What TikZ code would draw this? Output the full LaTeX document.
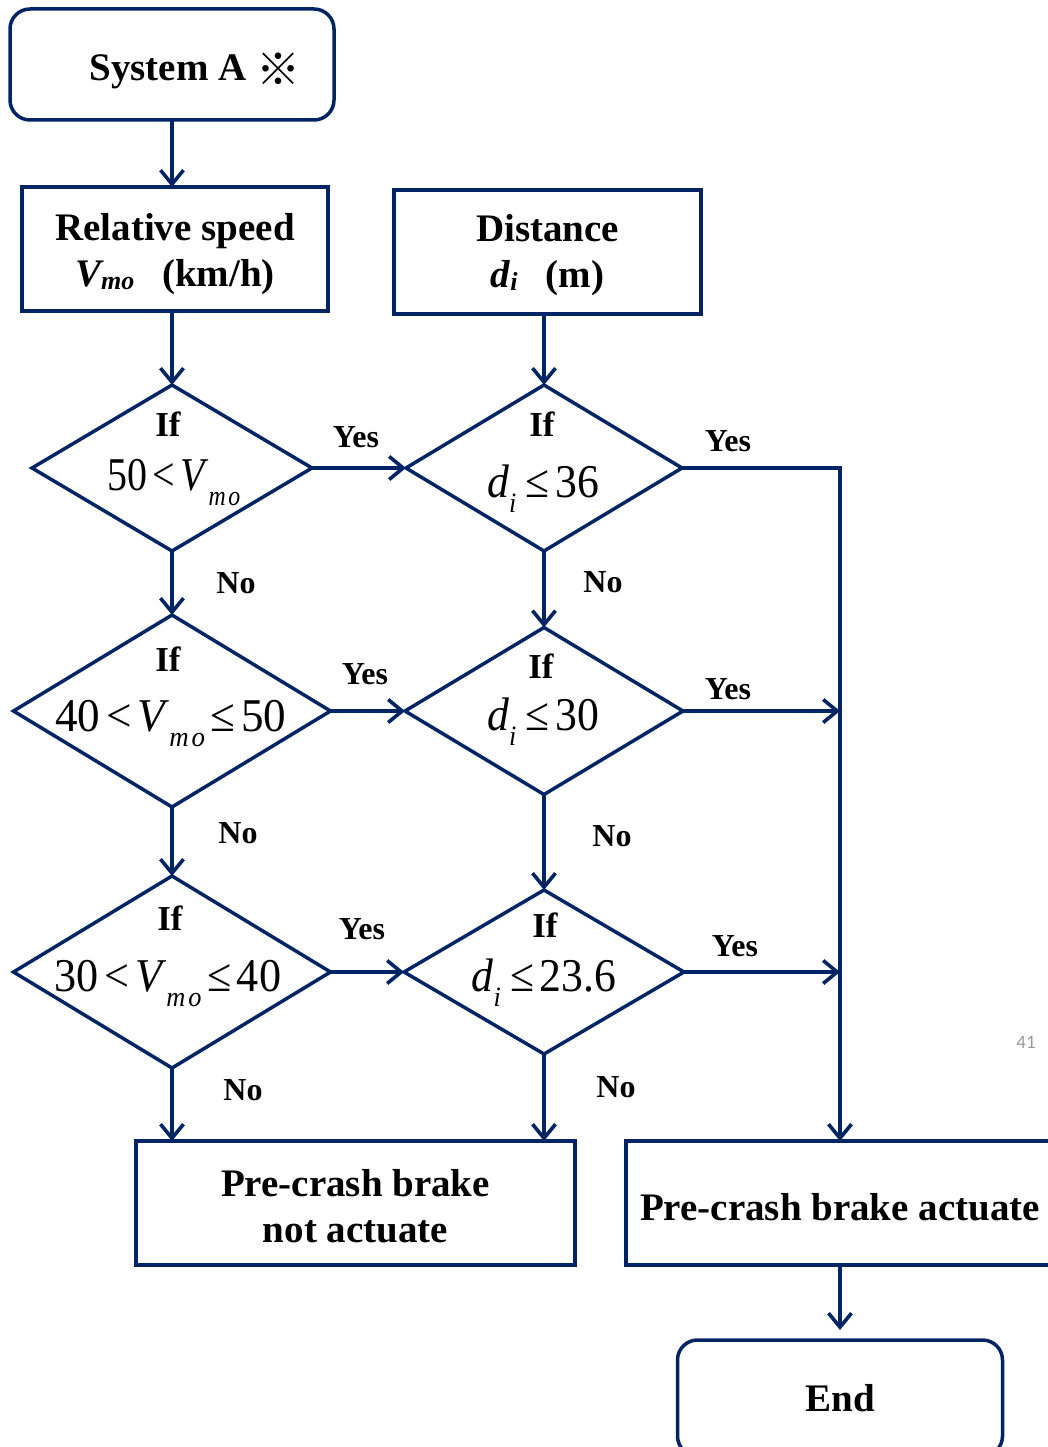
\documentclass[tikz,border=0pt]{standalone}
\usepackage{graphicx}
\usepackage{fontspec}
\setmainfont{Liberation Serif}
\newfontfamily\cjk{Noto Sans CJK JP}
\newfontfamily\pagefont{Carlito}
\usetikzlibrary{shapes.geometric,arrows.meta}
\definecolor{navy}{RGB}{0,36,100}

% font sizes (1pt = 1 unit of the drawing grid)
\newcommand{\boxfont}{\fontsize{39}{46}\selectfont\bfseries}
\newcommand{\iffont}{\fontsize{35}{40}\selectfont\bfseries}
\newcommand{\ansfont}{\fontsize{32}{36}\selectfont\bfseries}
\newcommand{\condfont}{\fontsize{47}{52}\selectfont}
% variables with subscripts
\newcommand{\Vmo}{\textit{V}\raisebox{-0.32em}{\fontsize{28}{30}\selectfont\textit{m\kern3pt o}}}
\newcommand{\di}{\textit{d}\raisebox{-0.32em}{\fontsize{28}{30}\selectfont\textit{i}}\kern4pt}
\newcommand{\Vmob}{\textit{V\raisebox{-3pt}{\fontsize{26}{28}\selectfont mo}}}
\newcommand{\dib}{\textit{d\raisebox{-3pt}{\fontsize{26}{28}\selectfont i}}}
\newcommand{\relsym}[1]{\kern6pt#1\kern6pt}
\newcommand{\refmark}{\raisebox{-5pt}{\cjk\mdseries\fontsize{44}{44}\selectfont ※}}
% condensed condition text
\newcommand{\cond}[2]{\scalebox{#1}[1]{#2}}

\tikzset{
  flowline/.style={draw=navy, line width=3.6pt},
  arr/.style={flowline, -{Straight Barb[length=14pt,width=23pt]}},
  procbox/.style={draw=navy, line width=3.5pt, rectangle, inner sep=0pt,
    outer sep=0pt, align=center, font=\boxfont},
  termbox/.style={procbox, rounded corners=20pt},
  decision/.style={draw=navy, line width=3.5pt, diamond, inner sep=0pt,
    outer sep=0pt},
  iftext/.style={anchor=base, font=\iffont, inner sep=0pt},
  condtext/.style={anchor=base, font=\condfont, inner sep=0pt},
  answer/.style={font=\ansfont, inner sep=0pt},
}

\begin{document}
\begin{tikzpicture}[x=1pt,y=-1pt]
\useasboundingbox (0,0) rectangle (1048,1447);
\clip (0,0) rectangle (1048,1447);

% start and inputs
\node[termbox, minimum width=324pt, minimum height=111pt] (start) at (172,64.5)
  {\rule{0pt}{40pt}\hspace*{46pt}System A\ \refmark};
\node[procbox, minimum width=306pt, minimum height=124pt] (speed) at (175,249)
  {\rule{0pt}{37pt}Relative speed\\ \Vmob\hspace{28pt}(km/h)};
\node[procbox, minimum width=307pt, minimum height=124pt] (dist) at (547.5,252)
  {\rule{0pt}{34pt}Distance\\ \dib\hspace{28pt}(m)};

% decisions
\node[decision, minimum width=280pt, minimum height=166pt] (v50) at (172,468) {};
\node[decision, minimum width=276pt, minimum height=166pt] (d36) at (544,468) {};
\node[decision, minimum width=317pt, minimum height=192pt] (v40) at (172,711) {};
\node[decision, minimum width=278pt, minimum height=167pt] (d30) at (544,711) {};
\node[decision, minimum width=317pt, minimum height=192pt] (v30) at (172,972) {};
\node[decision, minimum width=280pt, minimum height=164pt] (d23) at (544,972) {};

\node[iftext] (v50if) at (168,436) {If};
\node[condtext] (v50c) at (174,490) {\cond{0.85}{50\relsym{<}\Vmo}};
\node[iftext] (d36if) at (542,436) {If};
\node[condtext] (d36c) at (543,497) {\cond{0.93}{\di\relsym{≤}36}};
\node[iftext] (v40if) at (168,671) {If};
\node[condtext] (v40c) at (171,731) {\cond{0.96}{40\relsym{<}\Vmo\relsym{≤}50}};
\node[iftext] (d30if) at (541,678) {If};
\node[condtext] (d30c) at (543,730) {\cond{0.93}{\di\relsym{≤}30}};
\node[iftext] (v30if) at (170,930) {If};
\node[condtext] (v30c) at (168,991) {\cond{0.94}{30\relsym{<}\Vmo\relsym{≤}40}};
\node[iftext] (d23if) at (545,937) {If};
\node[condtext] (d23c) at (544,991) {\cond{0.93}{\di\relsym{≤}23.6}};

% outcomes
\node[procbox, minimum width=439pt, minimum height=124pt] (noact) at (355.5,1203)
  {\rule{0pt}{33pt}Pre-crash brake\\not actuate};
\node[procbox, minimum width=428pt, minimum height=124pt] (act) at (840,1203)
  {\rule{0pt}{36pt}Pre-crash brake actuate};
\node[termbox, minimum width=325pt, minimum height=116pt] (end) at (840,1398) {End};

% connectors
\draw[arr] (start.south) -- (start.south |- speed.north);
\draw[arr] (v50.north |- speed.south) -- (v50.north);
\draw[arr] (d36.north |- dist.south) -- (d36.north);
\draw[arr] (v50.east) -- (d36.west);
\draw[arr] (v40.east) -- (d30.west);
\draw[arr] (v30.east) -- (d23.west);
\draw[arr] (v50.south) -- (v40.north);
\draw[arr] (v40.south) -- (v30.north);
\draw[arr] (v30.south) -- (v30.south |- noact.north);
\draw[arr] (d36.south) -- (d30.north);
\draw[arr] (d30.south) -- (d23.north);
\draw[arr] (d23.south) -- (d23.south |- noact.north);
\coordinate (rail) at (840,468);
\draw[arr] (d36.east) -- (rail) -- (rail |- act.north);
\draw[arr] (d30.east) -- (d30.east -| rail);
\draw[arr] (d23.east) -- (d23.east -| rail);
\draw[arr, shorten >=10pt] (act.south) -- (end.north);

% branch labels
\node[answer] (yes1) at (356,437) {Yes};
\node[answer] (yes2) at (728,441) {Yes};
\node[answer] (yes3) at (365,674) {Yes};
\node[answer] (yes4) at (728,689) {Yes};
\node[answer] (yes5) at (362,929) {Yes};
\node[answer] (yes6) at (735,946) {Yes};
\node[answer] (no1) at (236,583) {No};
\node[answer] (no2) at (603,582) {No};
\node[answer] (no3) at (238,833) {No};
\node[answer] (no4) at (612,836) {No};
\node[answer] (no5) at (243,1090) {No};
\node[answer] (no6) at (616,1087) {No};

% page number
\node[text=black!40, font=\pagefont\fontsize{19}{22}\selectfont, inner sep=0pt]
  (pageno) at (1026,1042) {41};
\end{tikzpicture}
\end{document}
